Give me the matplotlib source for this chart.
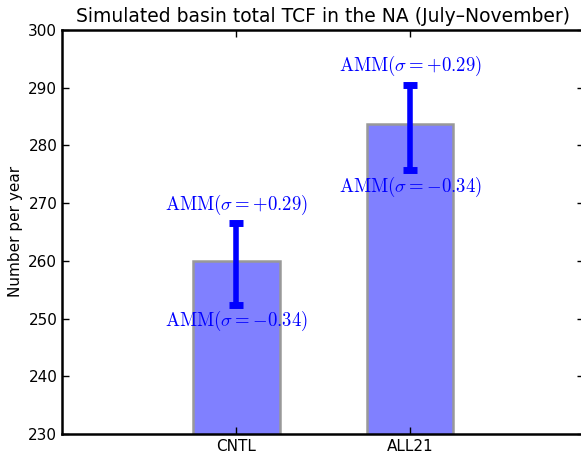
import numpy as np
import matplotlib
matplotlib.use("Agg")
import matplotlib.pyplot as plt

plt.rcParams['mathtext.fontset'] = 'cm'

runs = ['CNTL', 'ALL21']
totals = [260.0, 283.7]
amm_pos = [266.5, 290.5]   # AMM(sigma=+0.29)
amm_neg = [252.4, 275.7]   # AMM(sigma=-0.34)
pos_label = r'$\mathrm{AMM}(\mathrm{\sigma}=+0.29)$'
neg_label = r'$\mathrm{AMM}(\mathrm{\sigma}=-0.34)$'

fig = plt.figure(figsize=(5.81, 4.53), dpi=100)
ax = fig.add_axes([0.107, 0.042, 0.898, 0.892])

x = np.arange(len(runs))
ax.bar(x, totals, width=0.5, color=(0.5, 0.5, 1.0), edgecolor='0.6', linewidth=1.8)

mid = [(a + b) / 2 for a, b in zip(amm_pos, amm_neg)]
half = [(a - b) / 2 for a, b in zip(amm_pos, amm_neg)]
ax.errorbar(x, mid, yerr=half, fmt='none', ecolor='blue', elinewidth=4,
            capsize=5, capthick=5)

for xi, p, n in zip(x, amm_pos, amm_neg):
    ax.text(xi, p + 3.2, pos_label, color='blue', fontsize=13.5, ha='center', va='center')
    ax.text(xi, n - 2.9, neg_label, color='blue', fontsize=13.5, ha='center', va='center')

ax.set_xlim(-1, 2)
ax.set_ylim(230, 300)
ax.set_xticks(x)
ax.set_xticklabels(runs, fontsize=11)
ax.set_yticks(np.arange(230, 301, 10))
ax.tick_params(axis='y', labelsize=11)
ax.tick_params(direction='in', length=5, width=1, top=True, right=True)
for s in ax.spines.values():
    s.set_linewidth(1.8)
ax.set_ylabel('Number per year', fontsize=11)
ax.set_title('Simulated basin total TCF in the NA (July\u2013November)', fontsize=13.5)

fig.savefig('out.png', dpi=100)
